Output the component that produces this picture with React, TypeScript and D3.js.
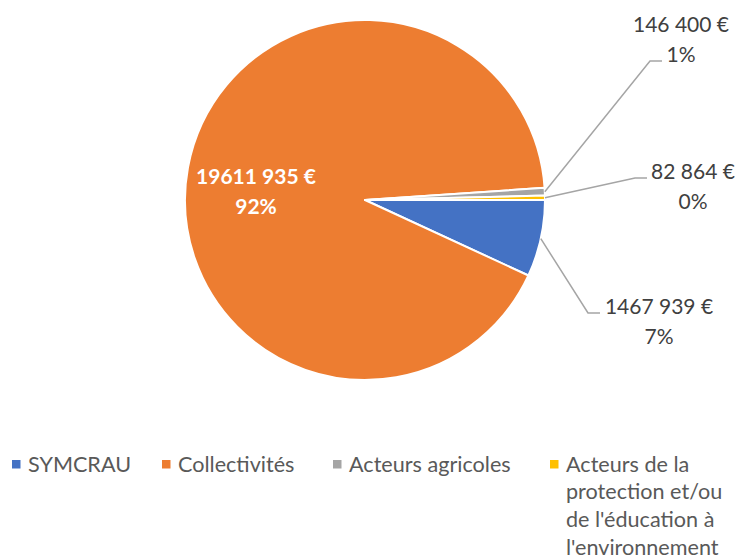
import React from "react";
import * as d3 from "d3";

const categories = ["SYMCRAU", "Collectivités", "Acteurs agricoles", "Acteurs de la protection et/ou de l'éducation à l'environnement"];
const values = [1467939, 19611935, 146400, 82864];
const valueLabels = ["1467 939 €", "19611 935 €", "146 400 €", "82 864 €"];
const percentLabels = ["7%", "92%", "1%", "0%"];
const colors = ["#4472C4", "#ED7D31", "#A5A5A5", "#FFC000"];
const legendLines = [["SYMCRAU"], ["Collectivités"], ["Acteurs agricoles"], ["Acteurs de la", "protection et/ou", "de l'éducation à", "l'environnement"]];

const W = 738, H = 558;
const cx = 365, cy = 200, R = 180;
const FONT = "Lato, 'Open Sans', sans-serif";

// label layout (position of text centre and leader elbow)
const labelLayout = [
  { x: 659, y: 307, elbow: [588, 313], end: [600, 313], inside: false },
  { x: 256, y: 177, inside: true },
  { x: 681, y: 25, elbow: [650, 61], end: [662, 61], inside: false },
  { x: 693, y: 172, elbow: [635, 178], end: [647, 178], inside: false },
];
const legendX = [12, 162, 333, 550];
const legendY = 464;
const lineH = 27.8;

export default function App() {
  const pie = d3.pie<number>().sort(null).value((d) => d).startAngle(Math.PI / 2).endAngle(Math.PI / 2 + 2 * Math.PI);
  const arcs = pie(values);
  const arc = d3.arc<d3.PieArcDatum<number>>().innerRadius(0).outerRadius(R);

  return (
    <svg width={W} height={H} style={{ position: "absolute", left: 0, top: 0, background: "#fff" }}>
      <g transform={`translate(${cx},${cy})`}>
        {arcs.map((a, i) => (
          <path key={i} d={arc(a) || ""} fill={colors[i]} stroke="#fff" strokeWidth={2} strokeLinejoin="round" />
        ))}
      </g>
      {arcs.map((a, i) => {
        const L = labelLayout[i];
        if (L.inside) {
          return (
            <g key={i} fontFamily={FONT} fontWeight="bold" fontSize={21} fill="#fff" textAnchor="middle">
              <text x={L.x} y={L.y} dy="0.35em">{valueLabels[i]}</text>
              <text x={L.x} y={L.y + 30} dy="0.35em">{percentLabels[i]}</text>
            </g>
          );
        }
        const mid = (a.startAngle + a.endAngle) / 2;
        const px = cx + R * Math.sin(mid);
        const py = cy - R * Math.cos(mid);
        const line = d3.line()([[px, py], L.elbow as [number, number], L.end as [number, number]]);
        return (
          <g key={i}>
            <path d={line || ""} fill="none" stroke="#A5A5A5" strokeWidth={1.5} />
            <g fontFamily={FONT} fontSize={21} fill="#404040" textAnchor="middle">
              <text x={L.x} y={L.y} dy="0.35em">{valueLabels[i]}</text>
              <text x={L.x} y={L.y + 30} dy="0.35em">{percentLabels[i]}</text>
            </g>
          </g>
        );
      })}
      {categories.map((c, i) => (
        <g key={c}>
          <rect x={legendX[i]} y={legendY - 4} width={8.5} height={8.5} fill={colors[i]} />
          <text fontFamily={FONT} fontSize={21.6} fill="#595959">
            {legendLines[i].map((ln, j) => (
              <tspan key={j} x={legendX[i] + 16} y={legendY + j * lineH} dy="0.35em">{ln}</tspan>
            ))}
          </text>
        </g>
      ))}
    </svg>
  );
}
